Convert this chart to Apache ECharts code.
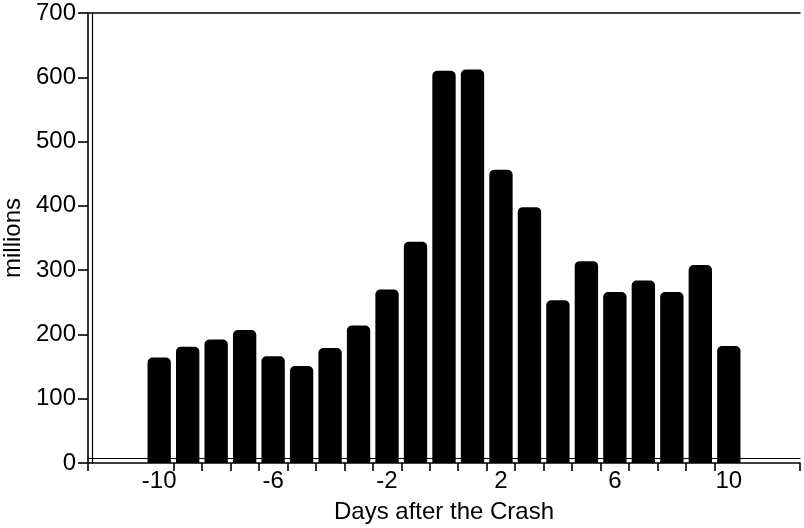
<!DOCTYPE html>
<html>
<head>
<meta charset="utf-8">
<script src="https://cdn.jsdelivr.net/npm/echarts@6/dist/echarts.min.js"></script>
<style>html,body{margin:0;padding:0;background:#fff}#c{width:804px;height:528px}</style>
</head>
<body>
<div id="c"></div>
<script>
var days = ['-12','-11','-10','-9','-8','-7','-6','-5','-4','-3','-2','-1','0','1','2','3','4','5','6','7','8','9','10','11','12'];
var volume = [null, null, 164, 181, 192, 207, 166, 151, 179, 214, 270, 344, 610, 612, 456, 398, 253, 314, 266, 284, 266, 308, 182, null, null];
var xLabels = ['-10','-6','-2','2','6','10'];
var yTicks = [0, 700, 100];

var FONT = '"Liberation Sans", Arial, Helvetica, sans-serif';
var chart = echarts.init(document.getElementById('c'), null, {renderer: 'canvas'});
chart.setOption({
  animation: false,
  backgroundColor: '#fff',
  grid: {left: 88, right: 4, top: 13, bottom: 65, containLabel: false, outerBoundsMode: 'none'},
  xAxis: [{
    type: 'category',
    data: days,
    position: 'bottom',
    boundaryGap: true,
    name: 'Days after the Crash',
    nameLocation: 'middle',
    nameGap: 37,
    nameTextStyle: {color: '#000', fontSize: 24, fontFamily: FONT},
    axisLine: {show: true, lineStyle: {color: '#000', width: 1.6}},
    axisTick: {
      show: true, length: 8, lineStyle: {color: '#000', width: 1.6},
      interval: function (i, v) { var n = +v; return (n >= -9 && n <= 10) || n === -12; }
    },
    axisLabel: {
      color: '#000', fontSize: 24, fontFamily: FONT, margin: 6,
      interval: function (i, v) { return xLabels.indexOf(v) >= 0; }
    },
    splitLine: {show: false}
  }, {
    type: 'category',
    data: days,
    position: 'bottom',
    offset: -5,
    axisLine: {show: true, lineStyle: {color: '#000', width: 1.2}},
    axisTick: {show: false},
    axisLabel: {show: false}
  }, {
    type: 'category',
    data: days,
    position: 'top',
    axisLine: {show: true, lineStyle: {color: '#000', width: 1.5}},
    axisTick: {show: false},
    axisLabel: {show: false}
  }],
  yAxis: [{
    type: 'value',
    min: yTicks[0], max: yTicks[1], interval: yTicks[2],
    name: 'millions',
    nameLocation: 'middle',
    nameGap: 55,
    nameRotate: 90,
    nameTextStyle: {color: '#000', fontSize: 24, fontFamily: FONT},
    axisLine: {show: true, lineStyle: {color: '#000', width: 1.6}},
    axisTick: {show: true, length: 10, lineStyle: {color: '#000', width: 1.6}},
    axisLabel: {color: '#000', fontSize: 24, fontFamily: FONT, margin: 12},
    splitLine: {show: false}
  }, {
    type: 'value',
    min: yTicks[0], max: yTicks[1], interval: yTicks[2],
    position: 'left',
    offset: -4,
    axisLine: {show: true, lineStyle: {color: '#000', width: 1.2}},
    axisTick: {show: false},
    axisLabel: {show: false},
    splitLine: {show: false}
  }],
  series: [{
    type: 'bar',
    data: volume,
    barCategoryGap: '18%',
    itemStyle: {color: '#000', borderRadius: [5, 5, 0, 0]}
  }]
});
</script>
</body>
</html>
